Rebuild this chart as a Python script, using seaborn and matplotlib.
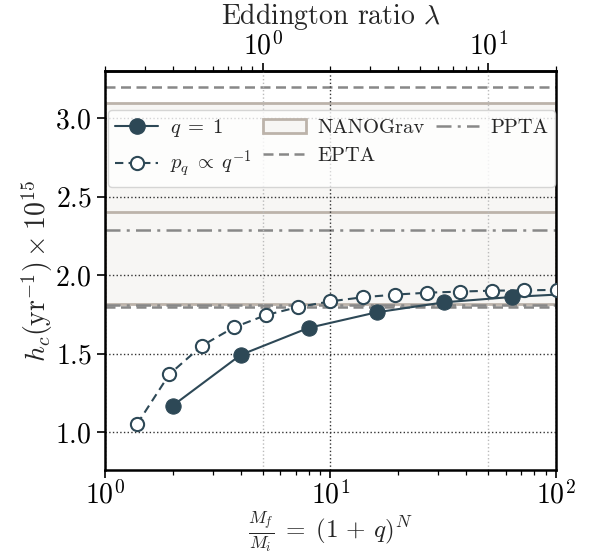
import matplotlib
matplotlib.use("Agg")
import matplotlib.pyplot as plt
import matplotlib.patches as mpatches
import matplotlib.lines as mlines
import pandas as pd
import seaborn as sns

# ---------------------------------------------------------------------------
# Data
# ---------------------------------------------------------------------------
mass_ratio_equal = [2, 4, 8, 16, 32, 64, 128]
hc_equal = [1.17, 1.493, 1.665, 1.764, 1.828, 1.862, 1.885]

mass_ratio_powerlaw = [1.39, 1.93, 2.69, 3.73, 5.19, 7.21, 10.0,
                       13.9, 19.4, 26.9, 37.4, 52.0, 72.3, 100.5]
hc_powerlaw = [1.053, 1.369, 1.551, 1.668, 1.747, 1.798, 1.834,
               1.860, 1.877, 1.889, 1.896, 1.902, 1.904, 1.907]

nanograv_band = (1.82, 2.4, 3.1)   # low, median, high
epta_bounds = (1.80, 3.2)
ppta_bounds = (1.81, 2.29)

lambda_scale = 5.0                 # M_f/M_i = 5 * lambda
lambda_ticks = [1, 10]

DARK = "#2d4856"
TAN = "#bcb3aa"
FILL = "#f7f6f4"
GREY = "#888888"

# ---------------------------------------------------------------------------
# Style
# ---------------------------------------------------------------------------
sns.set_theme(style="ticks")
plt.rcParams.update({
    "font.family": "serif",
    "font.serif": ["cmr10", "DejaVu Serif"],
    "mathtext.fontset": "cm",
    "axes.formatter.use_mathtext": True,
    "axes.unicode_minus": False,
    "font.size": 15,
    "axes.edgecolor": "black",
    "axes.linewidth": 1.8,
    "xtick.color": "black",
    "ytick.color": "black",
    "xtick.major.width": 1.2,
    "ytick.major.width": 1.2,
    "xtick.minor.width": 0.9,
    "xtick.major.size": 6,
    "ytick.major.size": 6,
    "xtick.minor.size": 3.5,
    "xtick.labelsize": 20,
    "ytick.labelsize": 20,
})

fig = plt.figure(figsize=(5.96, 5.52), dpi=100)
ax = fig.add_axes([0.176, 0.1486, 0.757, 0.7225])

# PTA constraints
ax.axhspan(nanograv_band[0], nanograv_band[2], facecolor=FILL,
           edgecolor=TAN, linewidth=2, zorder=0.2)
ax.axhline(nanograv_band[1], color=TAN, linewidth=2, zorder=0.3)
for yv in epta_bounds:
    ax.axhline(yv, color=GREY, linestyle="--", linewidth=1.8,
               dashes=(4, 2.2), zorder=0.4)
for yv in ppta_bounds:
    ax.axhline(yv, color=GREY, linestyle="-.", linewidth=1.8,
               dashes=(6, 2.5, 1.2, 2.5), zorder=0.4)

# grid
ax.set_axisbelow(True)
ax.grid(True, which="major", axis="both", color="#333333",
        linestyle=":", linewidth=1.0, zorder=0.5)
for lam in lambda_ticks:
    ax.axvline(lam * lambda_scale, color="#bbbbbb", linestyle=":",
               linewidth=1.0, zorder=0.5)

df_eq = pd.DataFrame({"x": mass_ratio_equal, "hc": hc_equal})
df_pl = pd.DataFrame({"x": mass_ratio_powerlaw, "hc": hc_powerlaw})

sns.lineplot(data=df_eq, x="x", y="hc", ax=ax, color=DARK,
             linewidth=1.5, marker="o", markersize=11,
             markerfacecolor=DARK, markeredgecolor=DARK, zorder=3)
sns.lineplot(data=df_pl, x="x", y="hc", ax=ax, color=DARK,
             linewidth=1.5, linestyle="--", marker="o", markersize=9.5,
             markerfacecolor="white", markeredgecolor=DARK,
             markeredgewidth=1.5, zorder=4)
ax.lines[-1].set_dashes((4, 2.5))

ax.set_xscale("log")
ax.set_xlim(1, 100)
ax.set_ylim(0.76, 3.3)
ax.set_yticks([1.0, 1.5, 2.0, 2.5, 3.0])
ax.tick_params(axis="both", which="both", direction="out")
ax.tick_params(axis="x", which="major", pad=2)

ax.set_xlabel(r"$\frac{M_f}{M_i}\;=\;(1\,+\,q)^N$", fontsize=18)
ax.xaxis.set_label_coords(0.5, -0.1)
ax.set_ylabel(r"$h_c(\mathrm{yr}^{-1}) \times 10^{15}$", fontsize=20,
              labelpad=0)

secax = ax.secondary_xaxis(
    "top", functions=(lambda x: x / lambda_scale, lambda x: x * lambda_scale))
secax.set_xticks(lambda_ticks)
secax.set_xlabel(r"Eddington ratio $\lambda$", fontsize=20, labelpad=5)
secax.tick_params(axis="x", which="both", direction="out", labelsize=20,
                  pad=2)

# legend
h_eq = mlines.Line2D([], [], color=DARK, linewidth=1.5, marker="o",
                     markersize=11)
h_pl = mlines.Line2D([], [], color=DARK, linewidth=1.5, linestyle="--",
                     dashes=(4, 2.5), marker="o", markersize=9.5,
                     markerfacecolor="white", markeredgewidth=1.5)
h_ng = mpatches.Patch(facecolor=FILL, edgecolor=TAN, linewidth=2)
h_ep = mlines.Line2D([], [], color=GREY, linestyle="--", linewidth=1.8,
                     dashes=(4, 2.2))
h_pp = mlines.Line2D([], [], color=GREY, linestyle="-.", linewidth=1.8,
                     dashes=(6, 2.5, 1.2, 2.5))
ax.legend([h_eq, h_pl, h_ng, h_ep, h_pp],
          [r"$q\;=\;1$", r"$p_q\;\propto\;q^{-1}$", "NANOGrav", "EPTA",
           "PPTA"],
          ncol=3, loc="upper left", bbox_to_anchor=(0.007, 0.902),
          borderaxespad=0, prop={"size": 14.8}, numpoints=1,
          handlelength=2.1, handletextpad=0.55, columnspacing=0.55,
          labelspacing=0.45, borderpad=0.35, framealpha=0.8,
          edgecolor="#cccccc", fancybox=True)

fig.savefig("out.png", dpi=100)
